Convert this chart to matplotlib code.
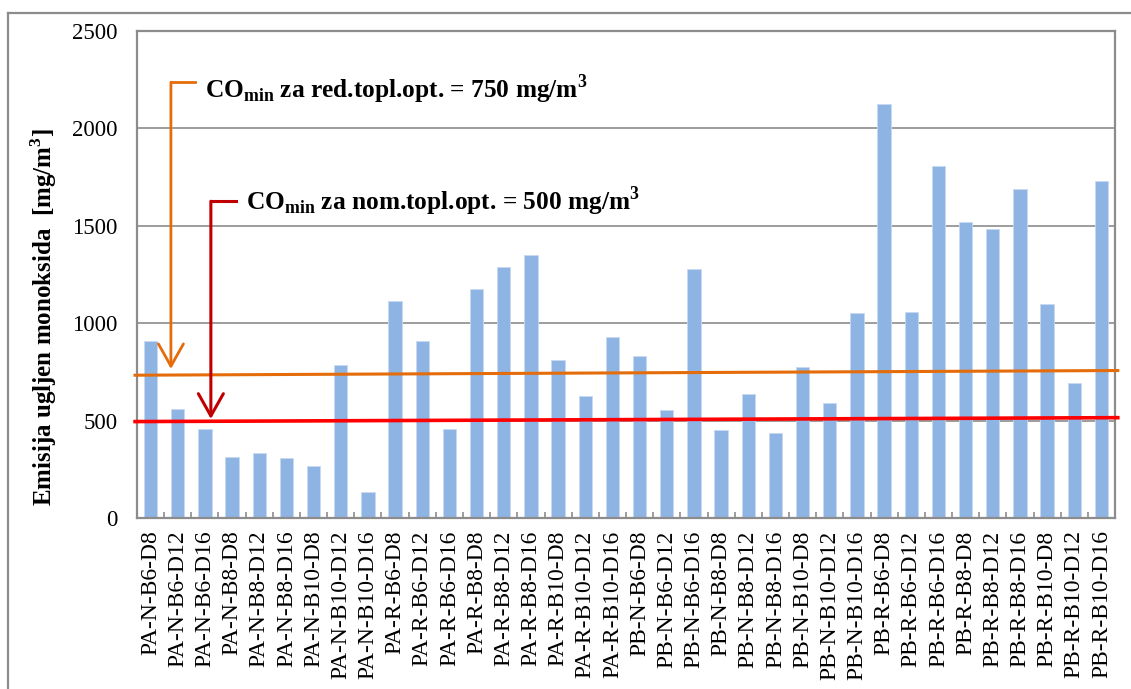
import matplotlib.pyplot as plt
import numpy as np
from matplotlib.lines import Line2D

plt.rcParams['font.family'] = ['Liberation Serif', 'DejaVu Serif']
plt.rcParams['mathtext.fontset'] = 'custom'
plt.rcParams['mathtext.rm'] = 'Liberation Serif'
plt.rcParams['mathtext.bf'] = 'Liberation Serif:bold'

# categories and CO emission values [mg/m3]
categories = [
    'PA-N-B6-D8', 'PA-N-B6-D12', 'PA-N-B6-D16', 'PA-N-B8-D8', 'PA-N-B8-D12', 'PA-N-B8-D16',
    'PA-N-B10-D8', 'PA-N-B10-D12', 'PA-N-B10-D16', 'PA-R-B6-D8', 'PA-R-B6-D12', 'PA-R-B6-D16',
    'PA-R-B8-D8', 'PA-R-B8-D12', 'PA-R-B8-D16', 'PA-R-B10-D8', 'PA-R-B10-D12', 'PA-R-B10-D16',
    'PB-N-B6-D8', 'PB-N-B6-D12', 'PB-N-B6-D16', 'PB-N-B8-D8', 'PB-N-B8-D12', 'PB-N-B8-D16',
    'PB-N-B10-D8', 'PB-N-B10-D12', 'PB-N-B10-D16', 'PB-R-B6-D8', 'PB-R-B6-D12', 'PB-R-B6-D16',
    'PB-R-B8-D8', 'PB-R-B8-D12', 'PB-R-B8-D16', 'PB-R-B10-D8', 'PB-R-B10-D12', 'PB-R-B10-D16',
]
emission = [
    910, 562, 458, 313, 333, 308, 265, 786, 133,
    1114, 911, 458, 1174, 1286, 1349, 810, 626, 927,
    832, 552, 1280, 450, 634, 438, 773, 588, 1050,
    2127, 1056, 1807, 1522, 1486, 1691, 1097, 691, 1730,
]
yticks = [0, 500, 1000, 1500, 2000, 2500]

# hand-drawn limit lines (start / end value)
co_red = [733, 757]
co_nom = [495, 515]

orange = '#E46C0A'
red = '#FF0000'
darkred = '#C00000'
grey = '#8C8C8C'

fig = plt.figure(figsize=(11.31, 6.89), dpi=100)
ax = fig.add_axes([0.1211, 0.2482, 0.8648, 0.7068])

x = np.arange(len(categories))
ax.bar(x, emission, width=0.49, color='#8EB4E3', edgecolor='#C6D9F1', linewidth=0.6, zorder=2)

ax.set_xlim(-0.5, len(categories) - 0.5)
ax.set_ylim(0, 2500)
ax.set_yticks(yticks)
ax.yaxis.grid(True, color=grey, lw=1.2, zorder=0)
ax.set_axisbelow(True)
for s in ax.spines.values():
    s.set_color(grey)
    s.set_linewidth(1.6)

ax.set_xticks(x)
ax.set_xticklabels(categories, rotation=90, fontsize=17)
ax.set_xticks(np.arange(-0.5, len(categories)), minor=True)
ax.tick_params(axis='x', which='major', length=0, pad=9)
ax.tick_params(axis='x', which='minor', direction='in', length=4, color=grey, width=1.2)
ax.tick_params(axis='y', length=0, pad=14, labelsize=16.5)

ax.set_ylabel(r'Emisija ugljen monoksida  [mg/m$^\mathbf{3}$]', fontsize=18, fontweight='bold')
ax.yaxis.set_label_coords(-0.08, 0.413)

# limit lines, slightly sloped as in the original
xl = [-0.57, len(categories) - 0.4]
ax.plot(xl, co_red, color=orange, lw=2.2, zorder=3, clip_on=False)
ax.plot(xl, co_nom, color=red, lw=2.6, zorder=3, clip_on=False)

# elbow arrows with labels
ax.plot([1.63, 0.75], [2236, 2236], color=orange, lw=2, zorder=4)
ax.annotate('', xy=(0.75, 765), xytext=(0.75, 2236),
            arrowprops=dict(arrowstyle='->,head_length=0.8,head_width=0.45', color=orange, lw=2,
                            shrinkA=0, shrinkB=0, mutation_scale=20), zorder=4)
ax.text(2.0, 2159, r'CO$_\mathbf{min}$ za red.topl.opt. = 750 mg/m$^\mathbf{3}$',
        fontsize=18.3, fontweight='bold', va='baseline', ha='left', zorder=5)

ax.plot([3.14, 2.22], [1626, 1626], color=darkred, lw=2.2, zorder=4)
ax.annotate('', xy=(2.22, 508), xytext=(2.22, 1626),
            arrowprops=dict(arrowstyle='->,head_length=0.8,head_width=0.45', color=darkred, lw=2.2,
                            shrinkA=0, shrinkB=0, mutation_scale=20), zorder=4)
ax.text(3.51, 1580, r'CO$_\mathbf{min}$ za nom.topl.opt. = 500 mg/m$^\mathbf{3}$',
        fontsize=18.3, fontweight='bold', va='baseline', ha='left', zorder=5)

# outer chart border (only top and left visible in the crop)
fig.add_artist(Line2D([8 / 1131, 1], [1 - 13 / 689, 1 - 13 / 689], color=grey, lw=1.6))
fig.add_artist(Line2D([8 / 1131, 8 / 1131], [0, 1 - 13 / 689], color=grey, lw=1.6))

fig.savefig('out.png', dpi=100)
